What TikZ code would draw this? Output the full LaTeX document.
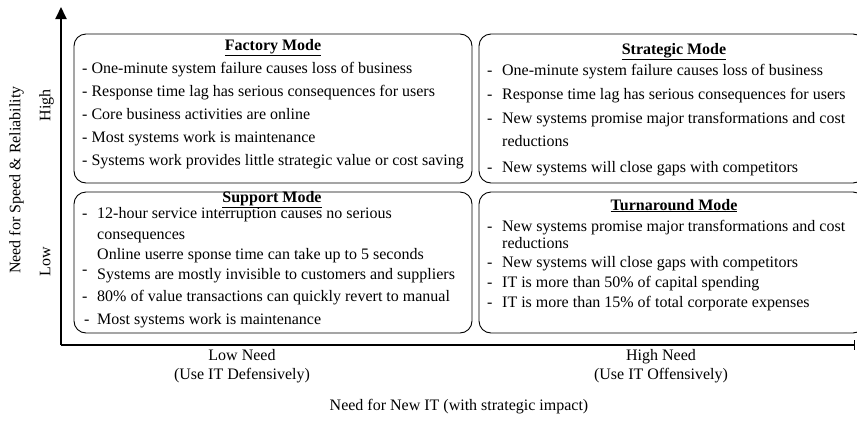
\documentclass[tikz,border=0pt]{standalone}
\usepackage{fontspec}
\setmainfont{Liberation Serif}
\usetikzlibrary{arrows.meta}

\newcommand{\dsh}{\makebox[15pt][l]{-}}

\begin{document}
\begin{tikzpicture}[
        x=1pt, y=-1pt,
        font=\fontsize{16}{19}\selectfont,
        mode/.style={rectangle, draw, rounded corners=12pt, line width=0.9pt, inner sep=0pt},
        title/.style={anchor=base, inner sep=0pt, font=\fontsize{16}{19}\selectfont\bfseries},
        item/.style={anchor=mid west, inner sep=0pt},
        lbl/.style={anchor=mid, inner sep=0pt},
        axis/.style={line width=1.8pt}
        ]
        \useasboundingbox (0,0) rectangle (857,421);
        \clip (0,0) rectangle (857,421);

        % quadrants
        \node (factory) [mode, minimum width=398pt, minimum height=149pt] at (273,108.5) {};
        \node (strategic) [mode, minimum width=386pt, minimum height=149pt] at (672,108.5) {};
        \node (support) [mode, minimum width=398pt, minimum height=141pt] at (273,262.5) {};
        \node (turnaround) [mode, minimum width=386pt, minimum height=141pt] at (672,262.5) {};

        % Factory Mode
        \node (factoryT) [title] at (273,50) {\underline{Factory Mode}};
        \node (f1) [item] at (82,71) {- One-minute system failure causes loss of business};
        \node (f2) [item] at (82,94) {- Response time lag has serious consequences for users};
        \node (f3) [item] at (82,117) {- Core business activities are online};
        \node (f4) [item] at (82,140) {- Most systems work is maintenance};
        \node (f5) [item] at (82,163) {- Systems work provides little strategic value or cost saving};

        % Strategic Mode
        \node (strategicT) [title] at (674,54) {\underline{Strategic Mode}};
        \node (s1) [item] at (487,73) {\dsh One-minute system failure causes loss of business};
        \node (s2) [item] at (487,97) {\dsh Response time lag has serious consequences for users};
        \node (s3) [item] at (487,121) {\dsh New systems promise major transformations and cost};
        \node (s3b) [item] at (502,144) {reductions};
        \node (s4) [item] at (487,170) {\dsh New systems will close gaps with competitors};

        % Support Mode
        \node (supportT) [title] at (272,202) {\underline{Support Mode}};
        \node (p1) [item] at (82,216) {\dsh 12-hour service interruption causes no serious};
        \node (p1b) [item] at (97,237) {consequences};
        \node (p2) [item] at (97,257) {Online userre sponse time can take up to 5 seconds};
        \node (p3d) [item] at (82,272) {-};
        \node (p3) [item] at (97,277) {Systems are mostly invisible to customers and suppliers};
        \node (p4) [item] at (82,299) {\dsh 80\% of value transactions can quickly revert to manual};
        \node (p5) [item] at (84,322) {\makebox[13pt][l]{-}Most systems work is maintenance};

        % Turnaround Mode
        \node (turnaroundT) [title] at (674,210) {\underline{Turnaround Mode}};
        \node (t1) [item] at (487,229) {\dsh New systems promise major transformations and cost};
        \node (t1b) [item] at (502,246) {reductions};
        \node (t2) [item] at (487,265) {\dsh New systems will close gaps with competitors};
        \node (t3) [item] at (487,285) {\dsh IT is more than 50\% of capital spending};
        \node (t4) [item] at (487,305) {\dsh IT is more than 15\% of total corporate expenses};

        % axes
        \coordinate (origin) at (61,345);
        \coordinate (ytop) at (61,7);
        \coordinate (xend) at (855,345);
        \draw [axis, -{Triangle[length=12pt, width=11pt]}] (origin) -- (ytop);
        \draw [axis, -{Bar[width=10pt, line width=0.8pt]}] (origin) -- (xend);

        % axis labels
        \node (speed) [lbl, rotate=90] at (18,180) {Need for Speed \& Reliability};
        \node (high) [lbl, rotate=90] at (48,105) {High};
        \node (low) [lbl, rotate=90] at (48,262) {Low};
        \node (lowneed) [lbl] at (242,358) {Low Need};
        \node (lowuse) [lbl] at (242,377) {(Use IT Defensively)};
        \node (highneed) [lbl] at (661,358) {High Need};
        \node (highuse) [lbl] at (661,377) {(Use IT Offensively)};
        \node (newit) [lbl] at (459,408) {Need for New IT (with strategic impact)};
    \end{tikzpicture}
\end{document}
